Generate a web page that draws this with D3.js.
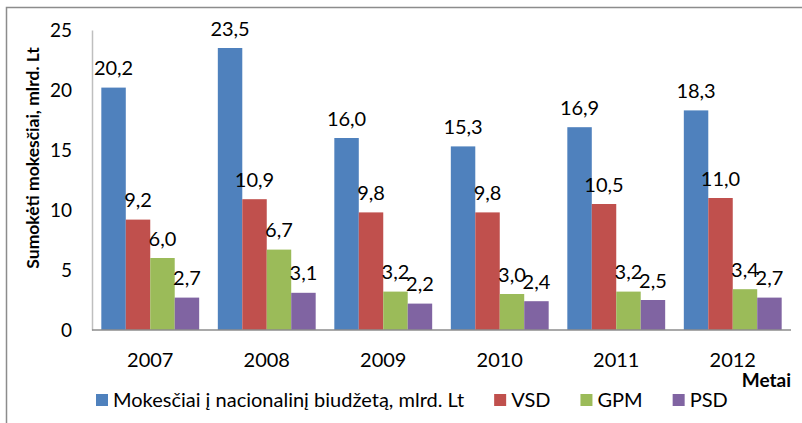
<!DOCTYPE html>
<html>
<head>
<meta charset="utf-8">
<script src="https://cdn.jsdelivr.net/npm/d3@7"></script>
<style>
  body { margin: 0; background: #fff; }
  text { font-family: Lato, "Liberation Sans", sans-serif; fill: #000; }
</style>
</head>
<body>
<div class="chart"></div>
<script>
const years = ["2007", "2008", "2009", "2010", "2011", "2012"];
const seriesNames = ["Mokesčiai į nacionalinį biudžetą, mlrd. Lt", "VSD", "GPM", "PSD"];
const seriesColors = ["#4F81BD", "#C0504D", "#9BBB59", "#8064A2"];
const budget = [20.2, 23.5, 16.0, 15.3, 16.9, 18.3];
const vsd = [9.2, 10.9, 9.8, 9.8, 10.5, 11.0];
const gpm = [6.0, 6.7, 3.2, 3.0, 3.2, 3.4];
const psd = [2.7, 3.1, 2.2, 2.4, 2.5, 2.7];
const yTicks = [0, 5, 10, 15, 20, 25];
const yTitle = "Sumokėti mokesčiai, mlrd. Lt";
const xTitle = "Metai";

const width = 802;
const height = 423;
const plot = { left: 92, right: 791, top: 30, bottom: 330 };
const series = [budget, vsd, gpm, psd];

const svg = d3.select("div.chart")
    .append("svg")
    .attr("width", width)
    .attr("height", height);

// outer frame (only top and left show inside the picture)
svg.append("rect")
    .attr("x", 6.5).attr("y", 7.5)
    .attr("width", 830).attr("height", 440)
    .attr("fill", "none")
    .attr("stroke", "#8c8c8c")
    .attr("stroke-width", 1.5);

const x0 = d3.scaleBand()
    .domain(years)
    .range([plot.left, plot.right])
    .paddingInner(0.16)
    .paddingOuter(0.08);

const x1 = d3.scaleBand()
    .domain(d3.range(series.length))
    .range([0, x0.bandwidth()]);

const y = d3.scaleLinear()
    .domain([0, 25])
    .range([plot.bottom, plot.top]);

const fmt = v => v.toFixed(1).replace(".", ",");

// bars
const groups = svg.append("g").attr("class", "bars")
    .selectAll("g")
    .data(years)
    .join("g")
    .attr("transform", d => `translate(${x0(d)},0)`);

groups.selectAll("rect")
    .data((d, i) => series.map((s, k) => ({ k, v: s[i] })))
    .join("rect")
    .attr("x", d => x1(d.k))
    .attr("width", x1.bandwidth())
    .attr("y", d => y(d.v))
    .attr("height", d => y(0) - y(d.v))
    .attr("fill", d => seriesColors[d.k]);

groups.selectAll("text")
    .data((d, i) => series.map((s, k) => ({ k, v: s[i] })))
    .join("text")
    .attr("x", d => x1(d.k) + x1.bandwidth() / 2)
    .attr("y", d => y(d.v) - 12.5)
    .attr("text-anchor", "middle")
    .style("font-size", "20px")
    .text(d => fmt(d.v));

// y axis
const yAxis = svg.append("g")
    .attr("transform", `translate(${plot.left},0)`)
    .call(d3.axisLeft(y).tickValues(yTicks).tickSize(0).tickPadding(20));
yAxis.select(".domain").attr("stroke", "#bfbfbf").attr("stroke-width", 1.5);
yAxis.selectAll("text").style("font-size", "19px").attr("dy", "0.35em");

// x axis
const xAxis = svg.append("g")
    .attr("transform", `translate(0,${plot.bottom})`)
    .call(d3.axisBottom(x0).tickSize(0).tickPadding(30));
xAxis.select(".domain").attr("stroke", "#8c8c8c").attr("stroke-width", 1.5)
    .attr("d", `M${plot.left},0H${plot.right}`);
xAxis.selectAll("text").style("font-size", "20px").attr("dy", "0.35em");

// axis titles
svg.append("text")
    .attr("transform", "translate(39,158) rotate(-90)")
    .attr("text-anchor", "middle")
    .style("font-size", "17.5px")
    .style("font-weight", "bold")
    .text(yTitle);

svg.append("text")
    .attr("x", plot.right)
    .attr("y", 387)
    .attr("text-anchor", "end")
    .style("font-size", "19px")
    .style("font-weight", "bold")
    .text(xTitle);

// legend
const legend = svg.append("g").attr("class", "legend");
let lx = 96;
seriesNames.forEach((name, k) => {
    legend.append("rect")
        .attr("x", lx).attr("y", 394)
        .attr("width", 12).attr("height", 12)
        .attr("fill", seriesColors[k]);
    const t = legend.append("text")
        .attr("x", lx + 17).attr("y", 407)
        .style("font-size", "20px")
        .text(name);
    lx += 17 + t.node().getComputedTextLength() + 30;
});
</script>
</body>
</html>
